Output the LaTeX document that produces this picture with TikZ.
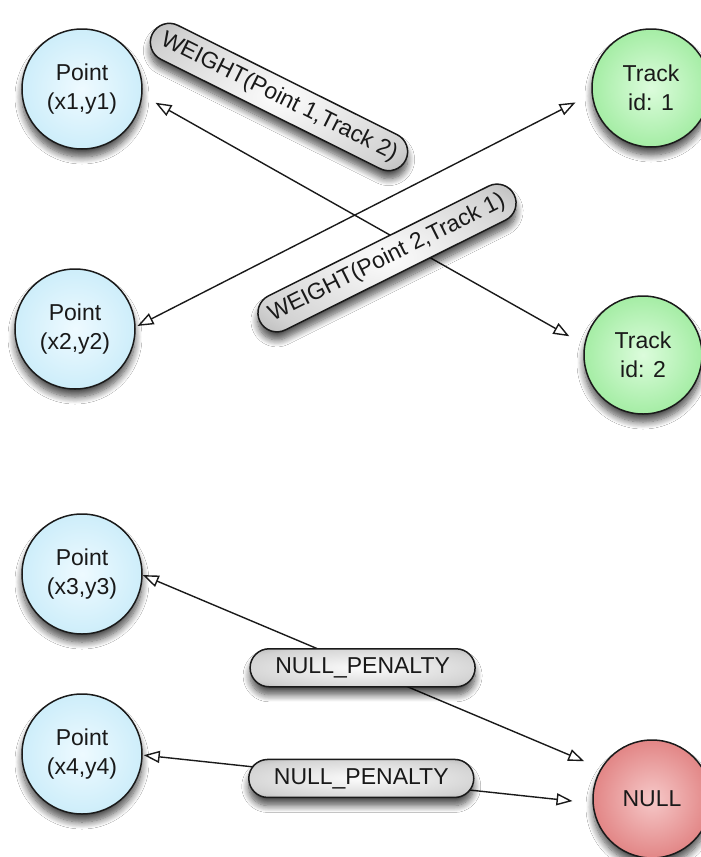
\documentclass[tikz,border=0pt]{standalone}
\usepackage{fontspec}
\setmainfont{Liberation Sans}
\usetikzlibrary{arrows.meta,shapes.misc,shadows.blur}

\definecolor{ptin}{HTML}{EEFAFF}
\definecolor{ptout}{HTML}{ADE1F5}
\definecolor{trin}{HTML}{DCFCDC}
\definecolor{trout}{HTML}{6EDE6E}
\definecolor{nuin}{HTML}{F6C8C8}
\definecolor{nuout}{HTML}{CE4444}
\definecolor{lbin}{HTML}{FCFCFC}
\definecolor{lbmid}{HTML}{D2D2D2}
\definecolor{lbout}{HTML}{858585}
\definecolor{edgec}{HTML}{1A1A1A}

\pgfdeclareradialshading{ptshade}{\pgfpoint{0bp}{0bp}}{color(0bp)=(ptin); color(50bp)=(ptout)}
\pgfdeclareradialshading{trshade}{\pgfpoint{0bp}{0bp}}{color(0bp)=(trin); color(50bp)=(trout)}
\pgfdeclareradialshading{nushade}{\pgfpoint{0bp}{0bp}}{color(0bp)=(nuin); color(50bp)=(nuout)}
\pgfdeclareradialshading{lbshade}{\pgfpoint{0bp}{0bp}}{color(0bp)=(lbin); color(28bp)=(lbmid); color(50bp)=(lbout)}

\tikzset{
  softshadow/.style={blur shadow={shadow xshift=0pt, shadow yshift=-8pt, shadow blur radius=7pt, shadow blur steps=10, shadow opacity=70}},
  base/.style={circle, draw=edgec, line width=1.5pt, align=center,
    font=\fontsize{23}{29}\selectfont, text=black!90, softshadow},
  point/.style={base, minimum size=120pt, shading=ptshade},
  track/.style={base, minimum size=118pt, shading=trshade},
  nullnode/.style={base, minimum size=118pt, shading=nushade},
  lbl/.style={rounded rectangle, draw=edgec, line width=1.5pt, shading=lbshade,
    minimum height=38pt, inner xsep=2pt, inner ysep=2pt,
    font=\fontsize{23}{27}\selectfont, text=black!90, softshadow},
  arr/.style={line width=1.4pt, draw=edgec,
    {Triangle[open,length=16pt,width=12pt]}-{Triangle[open,length=16pt,width=12pt]}}
}

\begin{document}
\begin{tikzpicture}[x=1pt,y=-1pt]
\fill[white] (0,0) rectangle (701,857);
\useasboundingbox (0,0) rectangle (701,857);

\node[point] (p1) at (82,89) {Point\\(x1,y1)};
\node[point] (p2) at (75,329) {Point\\(x2,y2)};
\node[point] (p3) at (82,574) {Point\\(x3,y3)};
\node[point] (p4) at (82,754) {Point\\(x4,y4)};
\node[track] (t1) at (651,88) {Track\\id: 1};
\node[track] (t2) at (643,355) {Track\\id: 2};
\node[nullnode] (nl) at (652,799) {NULL};

\draw[arr, shorten <=15pt, shorten >=17pt] (p1.-6) -- (t2.170.5);
\draw[arr, shorten <=2pt, shorten >=18pt] (p2.2) -- (t1.-174.5);

\node[lbl, rotate=-26.5, minimum width=287pt] (w1) at (279,97) {WEIGHT(Point 1,Track 2)};
\node[lbl, rotate=26.5, minimum width=288pt] (w2) at (387,258) {WEIGHT(Point 2,Track 1)};

\draw[arr, shorten >=18pt] (p3.-1) -- node[lbl, pos=0.48, minimum width=229pt] (n1) {NULL\_PENALTY} (nl.149.4);
\draw[arr, shorten <=1pt, shorten >=20pt] (p4.-1) -- node[lbl, pos=0.486, minimum width=229pt] (n2) {NULL\_PENALTY} (nl.-176);
\end{tikzpicture}
\end{document}
